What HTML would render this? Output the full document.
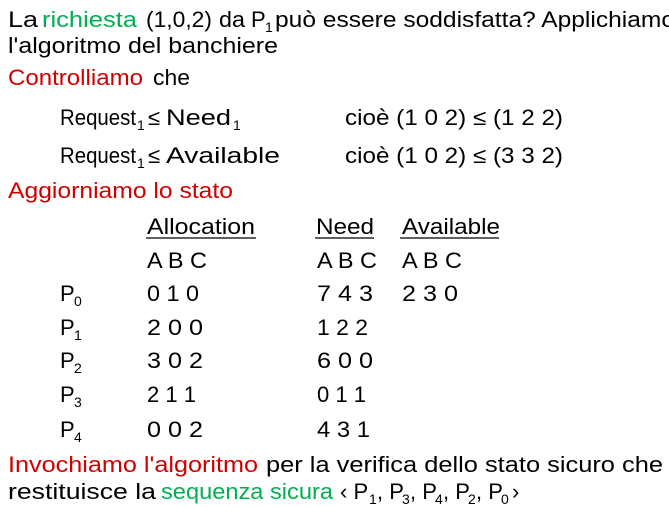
<!DOCTYPE html>
<html><head><meta charset="utf-8"><style>
html,body{margin:0;padding:0;background:#fff;width:669px;height:507px;overflow:hidden}
svg{display:block}
text{font-family:"Liberation Sans","DejaVu Sans",sans-serif;font-size:22px;fill:#000}
.r{fill:#d00000}.g{fill:#00b050}
.s{font-size:14px}
</style></head><body>
<svg width="669" height="507" xmlns="http://www.w3.org/2000/svg">
<text x="8" y="27" textLength="30" lengthAdjust="spacingAndGlyphs">La</text>
<text x="42" y="27" class="g" textLength="95" lengthAdjust="spacingAndGlyphs">richiesta</text>
<text x="146" y="27" textLength="66" lengthAdjust="spacingAndGlyphs">(1,0,2)</text>
<text x="219" y="27" textLength="26" lengthAdjust="spacingAndGlyphs">da</text>
<text x="251" y="27">P</text><text x="265" y="32" class="s">1</text>
<text x="275" y="27" textLength="400" lengthAdjust="spacingAndGlyphs">può essere soddisfatta? Applichiamo</text>
<text x="8" y="53" textLength="270" lengthAdjust="spacingAndGlyphs">l'algoritmo del banchiere</text>
<text x="8" y="85" class="r" textLength="135" lengthAdjust="spacingAndGlyphs">Controlliamo</text>
<text x="153" y="85" textLength="37" lengthAdjust="spacingAndGlyphs">che</text>

<text x="60" y="125" textLength="76" lengthAdjust="spacingAndGlyphs">Request</text><text x="137" y="130" class="s">1</text>
<text x="148" y="125">≤</text>
<text x="166" y="125" textLength="65" lengthAdjust="spacingAndGlyphs">Need</text><text x="233" y="130" class="s">1</text>
<text x="345" y="125" textLength="218" lengthAdjust="spacingAndGlyphs">cioè (1 0 2) ≤ (1 2 2)</text>

<text x="60" y="163" textLength="76" lengthAdjust="spacingAndGlyphs">Request</text><text x="137" y="168" class="s">1</text>
<text x="148" y="163">≤</text>
<text x="166" y="163" textLength="114" lengthAdjust="spacingAndGlyphs">Available</text>
<text x="345" y="163" textLength="218" lengthAdjust="spacingAndGlyphs">cioè (1 0 2) ≤ (3 3 2)</text>

<text x="8" y="198" class="r" textLength="225" lengthAdjust="spacingAndGlyphs">Aggiorniamo lo stato</text>

<text x="147" y="234" textLength="108" lengthAdjust="spacingAndGlyphs">Allocation</text>
<text x="316" y="234" textLength="58" lengthAdjust="spacingAndGlyphs">Need</text>
<text x="402" y="234" textLength="98" lengthAdjust="spacingAndGlyphs">Available</text>
<g stroke="#000" stroke-width="1.3"><line x1="146" y1="238" x2="256" y2="238"/><line x1="315" y1="238" x2="374" y2="238"/><line x1="400" y1="238" x2="499" y2="238"/></g>

<text x="147" y="268" textLength="60" lengthAdjust="spacingAndGlyphs">A B C</text>
<text x="317" y="268" textLength="60" lengthAdjust="spacingAndGlyphs">A B C</text>
<text x="402" y="268" textLength="60" lengthAdjust="spacingAndGlyphs">A B C</text>

<text x="60" y="301">P</text><text x="74" y="306" class="s">0</text>
<text x="147" y="301" textLength="52" lengthAdjust="spacingAndGlyphs">0 1 0</text>
<text x="317" y="301" textLength="56" lengthAdjust="spacingAndGlyphs">7 4 3</text>
<text x="402" y="301" textLength="56" lengthAdjust="spacingAndGlyphs">2 3 0</text>

<text x="60" y="335">P</text><text x="74" y="340" class="s">1</text>
<text x="147" y="335" textLength="56" lengthAdjust="spacingAndGlyphs">2 0 0</text>
<text x="317" y="335" textLength="51" lengthAdjust="spacingAndGlyphs">1 2 2</text>

<text x="60" y="368">P</text><text x="74" y="373" class="s">2</text>
<text x="147" y="368" textLength="56" lengthAdjust="spacingAndGlyphs">3 0 2</text>
<text x="317" y="368" textLength="56" lengthAdjust="spacingAndGlyphs">6 0 0</text>

<text x="60" y="402">P</text><text x="74" y="407" class="s">3</text>
<text x="147" y="402" textLength="49" lengthAdjust="spacingAndGlyphs">2 1 1</text>
<text x="317" y="402" textLength="49" lengthAdjust="spacingAndGlyphs">0 1 1</text>

<text x="60" y="437">P</text><text x="74" y="442" class="s">4</text>
<text x="147" y="437" textLength="56" lengthAdjust="spacingAndGlyphs">0 0 2</text>
<text x="317" y="437" textLength="53" lengthAdjust="spacingAndGlyphs">4 3 1</text>

<text x="8" y="472" class="r" textLength="250" lengthAdjust="spacingAndGlyphs">Invochiamo l'algoritmo</text>
<text x="266" y="472" textLength="397" lengthAdjust="spacingAndGlyphs">per la verifica dello stato sicuro che</text>
<text x="8" y="499" textLength="148" lengthAdjust="spacingAndGlyphs">restituisce la</text>
<text x="161" y="499" class="g" textLength="172" lengthAdjust="spacingAndGlyphs">sequenza sicura</text>
<text x="340" y="499">‹ P</text><text x="369" y="504" class="s">1</text>
<text x="377" y="499">, P</text><text x="402" y="504" class="s">3</text>
<text x="410" y="499">, P</text><text x="435" y="504" class="s">4</text>
<text x="443" y="499">, P</text><text x="468" y="504" class="s">2</text>
<text x="476" y="499">, P</text><text x="501" y="504" class="s">0</text>
<text x="512" y="499">›</text>
</svg>
</body></html>
